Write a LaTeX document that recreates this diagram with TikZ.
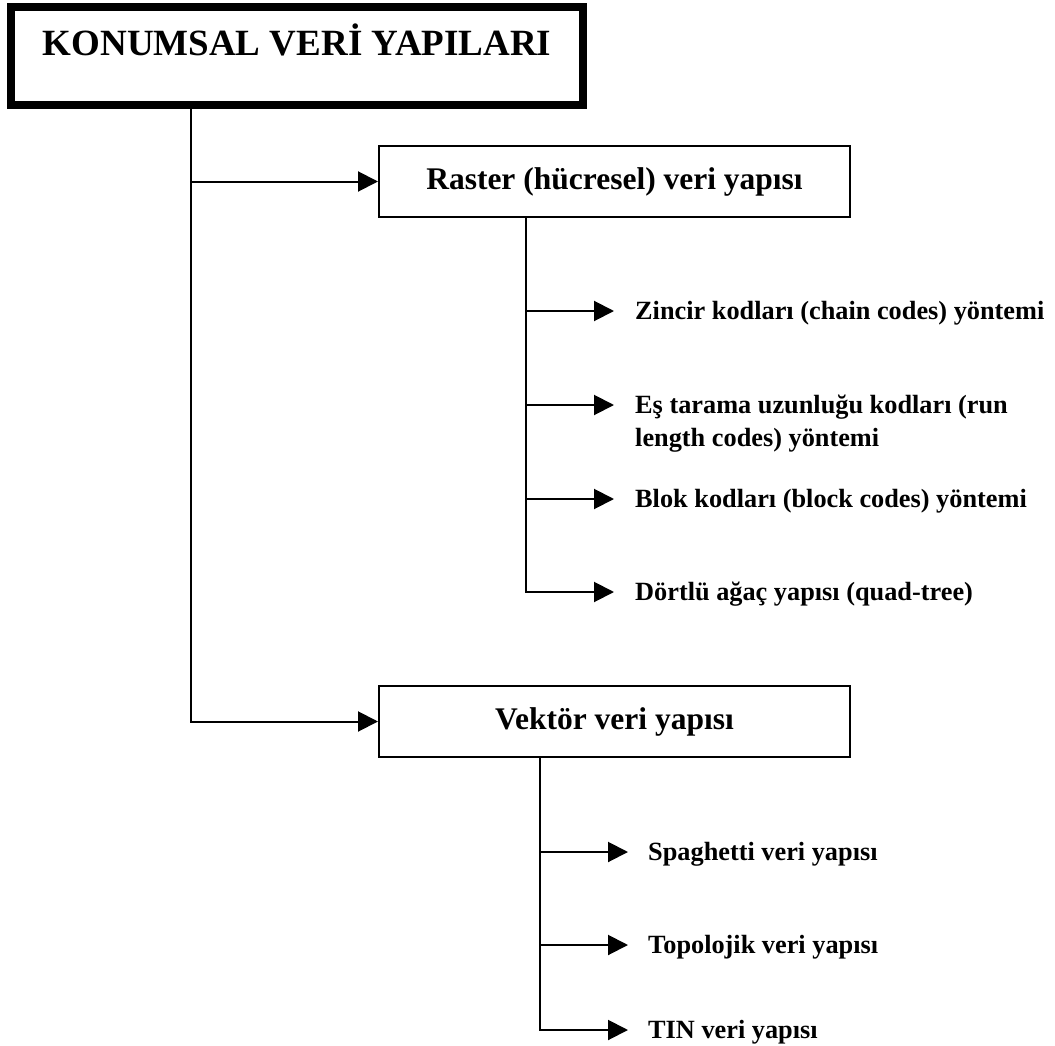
\documentclass[tikz,border=0pt]{standalone}
\usepackage{fontspec}
\setmainfont{Liberation Serif}
\usetikzlibrary{arrows.meta,calc}
\begin{document}
\begin{tikzpicture}[x=1pt,y=-1pt,
  line/.style={line width=2pt},
  arr/.style={line width=2pt,-{Triangle[length=20pt,width=20pt]}},
  titlebox/.style={draw,line width=8pt,minimum width=572pt,inner sep=0pt,
    text height=49pt,text depth=49pt,font=\bfseries\fontsize{37}{44}\selectfont},
  groupbox/.style={draw,line width=2pt,minimum width=471pt,minimum height=71pt,
    inner sep=0pt,font=\bfseries\fontsize{31.5}{38}\selectfont},
  leaf/.style={anchor=base west,inner sep=0pt,align=left,
    font=\bfseries\fontsize{26.3}{33}\selectfont}]
\useasboundingbox (0,0) rectangle (1055,1046);

% heading
\node[titlebox] (title) at (297,56) {KONUMSAL VERİ YAPILARI};
\coordinate (trunk) at ($(title.south west)+(184,0)$);

% the two main structures
\node[groupbox] (raster) at (614.5,181.5) {Raster (hücresel) veri yapısı};
\node[groupbox] (vektor) at (614.5,721.5) {Vektör veri yapısı};

\draw[arr] (trunk) -- (trunk |- vektor.west) -- (vektor.west);
\draw[arr] (trunk |- raster.west) -- (raster.west);

% raster methods
\coordinate (rstem) at ($(raster.south west)+(148,0)$);
\coordinate (rz) at (614,311);
\coordinate (re) at (614,405);
\coordinate (rb) at (614,499);
\coordinate (rq) at (614,592);

\node[leaf] (zincir) at ($(rz)+(21,8)$) {Zincir kodları (chain codes) yöntemi};
% two-line label: its base anchor sits on the second line
\node[leaf] (estarama) at ($(re)+(21,41)$) {Eş tarama uzunluğu kodları (run\\length codes) yöntemi};
\node[leaf] (blok) at ($(rb)+(21,8)$) {Blok kodları (block codes) yöntemi};
\node[leaf] (quad) at ($(rq)+(21,8)$) {Dörtlü ağaç yapısı (quad-tree)};

\draw[arr] (rstem) -- (rstem |- rq) -- (rq);
\draw[arr] (rstem |- rz) -- (rz);
\draw[arr] (rstem |- re) -- (re);
\draw[arr] (rstem |- rb) -- (rb);

% vector structures
\coordinate (vstem) at ($(vektor.south west)+(162,0)$);
\coordinate (vs) at (628,852);
\coordinate (vt) at (628,945);
\coordinate (vn) at (628,1030);

\node[leaf] (spaghetti) at ($(vs)+(20,8)$) {Spaghetti veri yapısı};
\node[leaf] (topolojik) at ($(vt)+(20,8)$) {Topolojik veri yapısı};
\node[leaf] (tin) at ($(vn)+(20,8)$) {TIN veri yapısı};

\draw[arr] (vstem) -- (vstem |- vn) -- (vn);
\draw[arr] (vstem |- vs) -- (vs);
\draw[arr] (vstem |- vt) -- (vt);
\end{tikzpicture}
\end{document}
